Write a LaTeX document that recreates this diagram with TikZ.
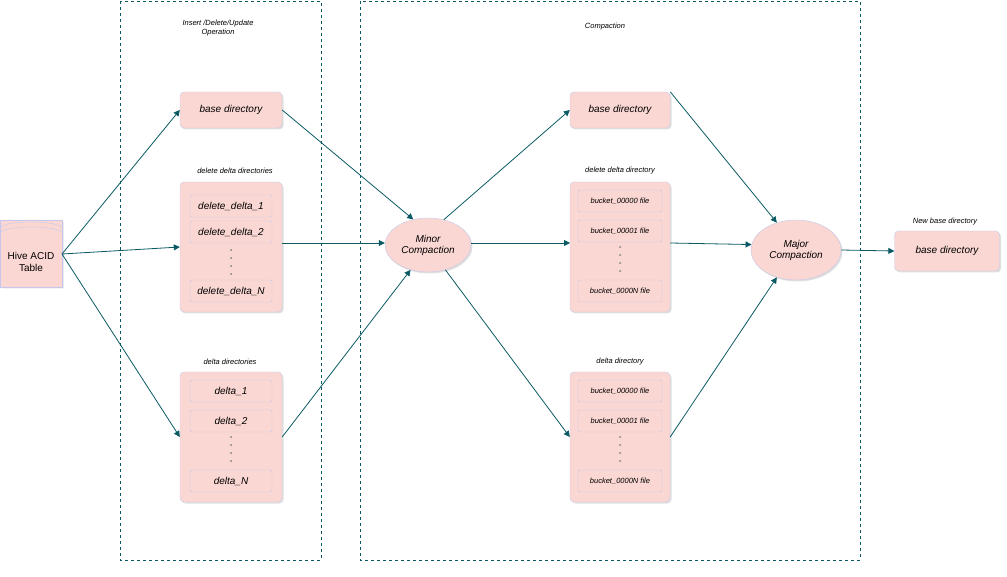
\documentclass[tikz,border=0pt]{standalone}
\usepackage{fontspec}
\setmainfont{Liberation Sans}
\usetikzlibrary{shapes.geometric,arrows.meta,shadows}
\definecolor{teal1}{HTML}{0B5A63}
\definecolor{pk}{HTML}{FAD7D2}
\definecolor{bd}{HTML}{C5C8EC}
\begin{document}
\begin{tikzpicture}[x=1pt,y=-1pt,
 panel/.style={draw=teal1,dashed,thin},
 box/.style={draw=bd,fill=pk,rounded corners=4pt,drop shadow={opacity=0.25,shadow xshift=1.5pt,shadow yshift=-1.5pt}},
 inner/.style={draw=bd,fill=pk,rounded corners=2pt},
 lbl/.style={font=\itshape\fontsize{7.5}{9}\selectfont,align=center},
 arr/.style={draw=teal1,-{Triangle[length=6pt,width=6pt]},line width=0.8pt},
 ell/.style={ellipse,draw=bd,fill=pk,drop shadow={opacity=0.25,shadow xshift=1.5pt,shadow yshift=-1.5pt},font=\itshape\fontsize{10}{11}\selectfont,align=center,inner sep=0pt}]
\useasboundingbox (0,0) rectangle (1007,577);
\draw[panel] (120,1) rectangle (321,560);
\draw[panel] (360,1) rectangle (860,560);
\node[lbl] (t1) at (218,28) {Insert /Delete/Update\\Operation};
\node[lbl] (t2) at (605,27) {Compaction};
% cylinder
\node[cylinder,shape border rotate=90,aspect=0.25,draw=bd,fill=pk,minimum width=62pt,minimum height=67pt,inner sep=0pt,drop shadow={opacity=0.25,shadow xshift=1.5pt,shadow yshift=-1.5pt}] (hive) at (31,253.5) {};
\draw[bd] (0,228) arc[start angle=180,end angle=360,x radius=31,y radius=6];
\draw[bd] (0,233) arc[start angle=180,end angle=360,x radius=31,y radius=6];
\node[font=\fontsize{10}{12}\selectfont,align=center] (hivet) at (31,262) {Hive ACID\\Table};
% left column
\node[box,minimum width=102pt,minimum height=36pt,font=\itshape\fontsize{10}{12}\selectfont] (b1) at (231,110) {base directory};
\node[lbl] (l1) at (235,171) {delete delta directories};
\node[box,minimum width=102pt,minimum height=130pt] (dd) at (231,247) {};
\foreach \y/\t/\n in {206/delete\_delta\_1/a,232/delete\_delta\_2/b,291/delete\_delta\_N/c}
  \node[inner,minimum width=82pt,minimum height=22pt,font=\itshape\fontsize{10}{12}\selectfont] (dd\n) at (231,\y) {\t};
\foreach \y in {250,258,266,274} \fill[gray] (231,\y) circle (1pt);
\node[lbl] (l2) at (230,362) {delta directories};
\node[box,minimum width=102pt,minimum height=130pt] (de) at (231,437) {};
\foreach \y/\t/\n in {391/delta\_1/a,421/delta\_2/b,481/delta\_N/c}
  \node[inner,minimum width=82pt,minimum height=22pt,font=\itshape\fontsize{10}{12}\selectfont] (de\n) at (231,\y) {\t};
\foreach \y in {437,445,453,461} \fill[gray] (231,\y) circle (1pt);
\node[ell,minimum width=86pt,minimum height=54pt] (minor) at (428,245) {Minor\\Compaction};
% right column
\node[box,minimum width=100pt,minimum height=36pt,font=\itshape\fontsize{10}{12}\selectfont] (b2) at (620,110) {base directory};
\node[lbl] (l3) at (620,171) {delete delta directory};
\node[box,minimum width=100pt,minimum height=130pt] (rd) at (620,247) {};
\foreach \y/\t/\n in {201/bucket\_00000 file/a,231/bucket\_00001 file/b,291/bucket\_0000N file/c}
  \node[inner,minimum width=84pt,minimum height=22pt,font=\itshape\fontsize{7.5}{9}\selectfont] (rd\n) at (620,\y) {\t};
\foreach \y in {247,255,263,271} \fill[gray] (620,\y) circle (1pt);
\node[lbl] (l4) at (620,362) {delta directory};
\node[box,minimum width=100pt,minimum height=130pt] (re) at (620,437) {};
\foreach \y/\t/\n in {391/bucket\_00000 file/a,421/bucket\_00001 file/b,481/bucket\_0000N file/c}
  \node[inner,minimum width=84pt,minimum height=22pt,font=\itshape\fontsize{7.5}{9}\selectfont] (re\n) at (620,\y) {\t};
\foreach \y in {437,445,453,461} \fill[gray] (620,\y) circle (1pt);
\node[ell,minimum width=90pt,minimum height=60pt] (major) at (796,250) {Major\\Compaction};
\node[lbl] (l5) at (945,222) {New base directory};
\node[box,minimum width=105pt,minimum height=40pt,font=\itshape\fontsize{10}{12}\selectfont] (nb) at (947,251) {base directory};
% arrows
\coordinate (h) at (62,254);
\draw[arr] (h) -- (b1.west);
\draw[arr] (h) -- (dd.west);
\draw[arr] (h) -- (de.west);
\draw[arr] (b1.east) -- (minor.120);
\draw[arr] (282,243) -- (minor.west |- 0,243);
\draw[arr] (de.east) -- (minor.235);
\draw[arr] (minor.58) -- (b2.west);
\draw[arr] (minor.east |- 0,243) -- (570,243);
\draw[arr] (minor.305) -- (re.west);
\draw[arr] (b2.north east) -- (major.125);
\draw[arr] (670,243) -- (major.173);
\draw[arr] (re.east) -- (major.235);
\draw[arr] (major.east) -- (nb.west);
\end{tikzpicture}
\end{document}
